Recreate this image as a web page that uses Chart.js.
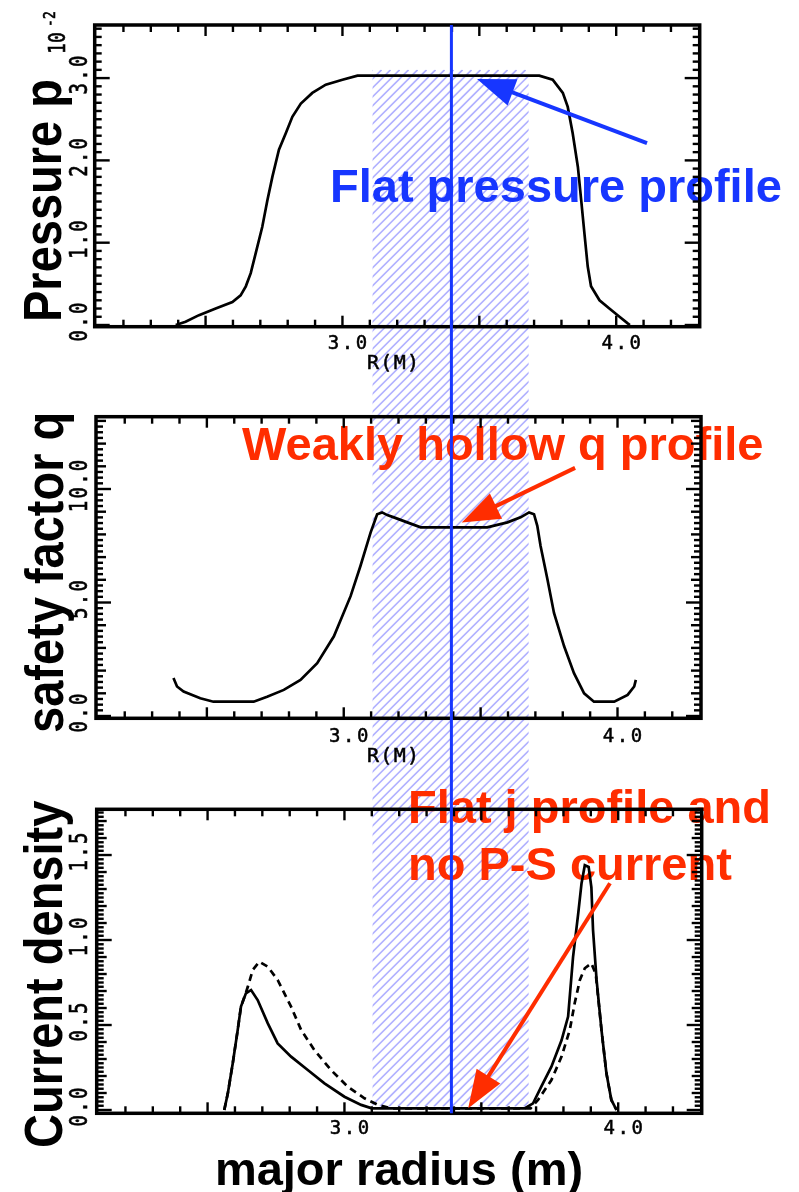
<!DOCTYPE html>
<html>
<head>
<meta charset="utf-8">
<script src="https://cdn.jsdelivr.net/npm/chart.js@4.4.1/dist/chart.umd.min.js"></script>
<style>
html,body{margin:0;padding:0;background:#fff;}
#wrap{position:relative;width:799px;height:1192px;overflow:hidden;background:#fff;}
#wrap canvas{position:absolute;left:0;top:0;}
</style>
</head>
<body>
<div id="wrap">
<canvas id="bg" width="799" height="1192"></canvas>
<canvas id="c1" width="799" height="1192"></canvas>
<canvas id="c2" width="799" height="1192"></canvas>
<canvas id="c3" width="799" height="1192"></canvas>
<canvas id="fg" width="799" height="1192"></canvas>
</div>
<script>
// ---------------- data ----------------
const xMin = 2.095, xMax = 4.305;
const xTickValues = [3.0, 4.0];
const xTickLabels = ['3.0', '4.0'];

// Pressure (units of 10^-2)
const radiusP = [2.391,2.427,2.476,2.537,2.598,2.628,2.647,2.665,2.683,2.707,2.726,2.744,2.768,2.793,2.817,2.848,2.890,2.939,3.000,3.055,3.719,3.768,3.805,3.823,3.841,3.860,3.872,3.884,3.896,3.908,3.939,3.975,4.012,4.042,4.050];
const pressure = [0.00,0.04,0.12,0.20,0.28,0.36,0.47,0.63,0.87,1.19,1.52,1.80,2.13,2.33,2.53,2.69,2.82,2.92,2.98,3.03,3.03,2.98,2.82,2.65,2.33,1.92,1.52,1.11,0.71,0.47,0.30,0.20,0.10,0.02,0.00];
const pTickValues = [0, 1, 2, 3];
const pTickLabels = ['0.0', '1.0', '2.0', '3.0'];

// Safety factor q
const radiusQ = [2.378,2.391,2.415,2.476,2.524,2.671,2.720,2.781,2.842,2.903,2.964,3.025,3.061,3.098,3.122,3.140,3.159,3.183,3.232,3.281,3.524,3.598,3.646,3.677,3.695,3.707,3.719,3.744,3.768,3.805,3.841,3.878,3.914,3.988,4.037,4.061,4.067];
const safetyQ = [1.67,1.30,1.08,0.78,0.63,0.63,0.85,1.15,1.59,2.33,3.51,5.28,6.61,8.08,8.89,8.97,8.85,8.75,8.53,8.31,8.31,8.53,8.75,8.97,8.89,8.38,7.49,6.02,4.54,3.07,1.89,1.00,0.63,0.63,0.93,1.30,1.59];
const qTickValues = [0, 5, 10];
const qTickLabels = ['0.0', '5.0', '10.0'];

// Current density (solid and dashed)
const radiusJ = [2.561,2.574,2.592,2.610,2.622,2.640,2.659,2.683,2.720,2.756,2.805,2.866,2.927,3.000,3.061,3.100,3.658,3.689,3.719,3.756,3.793,3.817,3.835,3.854,3.866,3.878,3.892,3.902,3.908,3.921,3.939,3.957,3.975,3.994];
const currentJ = [0.00,0.098,0.275,0.47,0.608,0.686,0.706,0.647,0.51,0.392,0.314,0.235,0.157,0.078,0.03,0.01,0.01,0.039,0.137,0.255,0.41,0.55,0.90,1.157,1.333,1.44,1.43,1.31,1.06,0.765,0.47,0.216,0.059,0.00];
const radiusJd = [2.561,2.574,2.592,2.610,2.622,2.640,2.647,2.665,2.689,2.720,2.756,2.805,2.842,2.890,2.951,3.012,3.073,3.122,3.170,3.680,3.707,3.756,3.793,3.823,3.841,3.860,3.878,3.902,3.918,3.939,3.957,3.975,3.994];
const currentJd = [0.00,0.098,0.275,0.47,0.608,0.69,0.725,0.824,0.872,0.843,0.765,0.608,0.47,0.353,0.235,0.137,0.069,0.03,0.01,0.01,0.059,0.176,0.314,0.47,0.628,0.765,0.834,0.863,0.80,0.47,0.216,0.059,0.00];
const jTickValues = [0, 0.5, 1.0, 1.5];
const jTickLabels = ['0.0', '0.5', '1.0', '1.5'];

// ---------------- styles ----------------
const BLUE = '#1736ff';
const RED = '#ff2d00';
const TITLE_FONT = 'bold 47px "Liberation Sans", Arial, sans-serif';
const MONO = '"DejaVu Sans Mono", "Liberation Mono", monospace';

const panels = [
  { id:'c1', box:{l:94.7, r:699.7, t:25, b:326.7}, ymin:-0.0207, ymax:3.645,
    minor:0.1, mid:null, major:1,
    yTicks:pTickValues, yLabels:pTickLabels, title:'Pressure p', titleX:61, titleStart:322,
    xLabelDy:17, xTitle:'R(M)', xTitleDy:37,
    series:[{x:radiusP, y:pressure}] },
  { id:'c2', box:{l:96, r:701, t:416.7, b:718.3}, ymin:-0.101, ymax:13.185,
    minor:0.25, mid:1, major:5,
    yTicks:qTickValues, yLabels:qTickLabels, title:'safety factor q', titleX:63, titleStart:733,
    xLabelDy:19, xTitle:'R(M)', xTitleDy:38.5,
    series:[{x:radiusQ, y:safetyQ}] },
  { id:'c3', box:{l:96.7, r:701.7, t:809.3, b:1113.3}, ymin:-0.0194, ymax:1.769,
    minor:0.025, mid:0.1, major:0.5,
    yTicks:jTickValues, yLabels:jTickLabels, title:'Current density', titleX:62, titleStart:1148,
    xLabelDy:16, xTitle:null,
    series:[{x:radiusJd, y:currentJd, dash:[7,5]}, {x:radiusJ, y:currentJ}] }
];

function spacedText(ctx, text, cx, cy, pitch, size, rotated, stretch){
  ctx.save();
  ctx.translate(cx, cy);
  if (rotated){ ctx.scale(stretch, 1); ctx.rotate(-Math.PI/2); }
  ctx.font = size + 'px ' + MONO;
  ctx.textAlign = 'center'; ctx.textBaseline = 'middle'; ctx.fillStyle = '#000';
  ctx.strokeStyle = '#000'; ctx.lineWidth = 0.5;
  const n = text.length;
  for (let i = 0; i < n; i++){
    ctx.fillText(text[i], (i - (n-1)/2) * pitch, 0);
    ctx.strokeText(text[i], (i - (n-1)/2) * pitch, 0);
  }
  ctx.restore();
}

function rotTitle(ctx, text, baseX, startY, stretch){
  ctx.save();
  ctx.translate(baseX, startY); ctx.scale(stretch, 1); ctx.rotate(-Math.PI/2);
  ctx.font = TITLE_FONT; ctx.textAlign = 'left'; ctx.textBaseline = 'alphabetic'; ctx.fillStyle = '#000';
  ctx.fillText(text, 0, 0);
  ctx.restore();
}

function isMult(v, step){ const r = v/step; return Math.abs(r - Math.round(r)) < 1e-6; }

function framePlugin(p){
  return {
    id:'frame_'+p.id,
    afterDraw(chart){
      const ctx = chart.ctx, a = chart.chartArea, xs = chart.scales.x, ys = chart.scales.y;
      ctx.save();
      ctx.strokeStyle = '#000'; ctx.lineCap = 'butt';
      // x ticks (top & bottom), inward
      ctx.lineWidth = 2.4;
      for (let k = 21; k <= 43; k++){
        const v = k/10; const px = xs.getPixelForValue(v);
        if (px < a.left + 2 || px > a.right - 2) continue;
        const len = isMult(v, 0.5) ? 11 : 7;
        ctx.beginPath(); ctx.moveTo(px, a.bottom); ctx.lineTo(px, a.bottom - len); ctx.stroke();
        ctx.beginPath(); ctx.moveTo(px, a.top); ctx.lineTo(px, a.top + len); ctx.stroke();
      }
      // y ticks (left & right), inward
      const nSteps = Math.floor(p.ymax / p.minor + 1e-6);
      for (let k = 0; k <= nSteps; k++){
        const v = k * p.minor; const py = ys.getPixelForValue(v);
        if (py < a.top + 2) continue;
        let len = 7;
        if (p.mid && isMult(v, p.mid)) len = 10;
        if (isMult(v, p.major)) len = 15;
        ctx.beginPath(); ctx.moveTo(a.left, py); ctx.lineTo(a.left + len, py); ctx.stroke();
        ctx.beginPath(); ctx.moveTo(a.right, py); ctx.lineTo(a.right - len, py); ctx.stroke();
      }
      // frame
      ctx.lineWidth = 3.5;
      ctx.strokeRect(a.left, a.top, a.right - a.left, a.bottom - a.top);
      ctx.restore();
      // tick labels
      xTickValues.forEach((v, i) => {
        spacedText(ctx, xTickLabels[i], xs.getPixelForValue(v) + 5, a.bottom + p.xLabelDy, 14, 19, false, 1);
      });
      p.yTicks.forEach((v, i) => {
        spacedText(ctx, p.yLabels[i], 81, ys.getPixelForValue(v) - 3, 13.7, 19, true, 1.3);
      });
      if (p.xTitle) spacedText(ctx, p.xTitle, 393, a.bottom + p.xTitleDy, 13.3, 20, false, 1);
      rotTitle(ctx, p.title, p.titleX, p.titleStart, 1.15);
      if (p.id === 'c1'){
        spacedText(ctx, '10', 59, 43, 11, 18, true, 1.3);
        spacedText(ctx, '-2', 51, 19, 8, 13, true, 1.2);
      }
      if (p.id === 'c3'){
        ctx.save();
        ctx.font = TITLE_FONT; ctx.fillStyle = '#000'; ctx.textAlign = 'center'; ctx.textBaseline = 'alphabetic';
        ctx.fillText('major radius (m)', 399, 1185);
        ctx.restore();
      }
    }
  };
}

const charts = panels.map(p => new Chart(document.getElementById(p.id), {
  type:'line',
  data:{ datasets: p.series.map(s => ({
    data: s.x.map((x, i) => ({x:x, y:s.y[i]})),
    borderColor:'#000', borderWidth:2.7, borderDash: s.dash || [],
    pointRadius:0, fill:false, tension:0
  })) },
  options:{
    responsive:false, animation:false, events:[],
    layout:{ padding:{ left:p.box.l, right:799 - p.box.r, top:p.box.t, bottom:1192 - p.box.b } },
    plugins:{ legend:{display:false}, tooltip:{enabled:false} },
    scales:{
      x:{ type:'linear', min:xMin, max:xMax, display:false },
      y:{ type:'linear', min:p.ymin, max:p.ymax, display:false }
    }
  },
  plugins:[framePlugin(p)]
}));

// ---------------- annotations ----------------
const shadeRange = [3.11, 3.68];      // major radius
const shadeTopP = 3.10;               // pressure panel value
const shadeBottomJ = 0.02;            // current panel value
const markerRadius = 3.398;

const notes = [
  {text:'Flat pressure profile', x:330, y:202, color:BLUE},
  {text:'Weakly hollow q profile', x:242, y:460, color:RED},
  {text:'Flat j profile and', x:408, y:823, color:RED},
  {text:'no P-S current', x:408, y:880, color:RED}
];
const arrows = [
  {chart:0, from:[4.1125, 2.211], to:[3.4915, 2.989], color:BLUE},
  {chart:1, from:[3.845, 10.93], to:[3.431, 8.52], color:RED},
  {chart:2, from:[3.970, 1.334], to:[3.452, 0.01], color:RED}
];

const [ch1, ch2, ch3] = charts;
const bg = document.getElementById('bg').getContext('2d');
const fg = document.getElementById('fg').getContext('2d');

// hatch
(function(){
  const x0 = ch1.scales.x.getPixelForValue(shadeRange[0]);
  const x1 = ch1.scales.x.getPixelForValue(shadeRange[1]);
  const y0 = ch1.scales.y.getPixelForValue(shadeTopP);
  const y1 = ch3.scales.y.getPixelForValue(shadeBottomJ);
  bg.save();
  bg.beginPath(); bg.rect(x0, y0, x1 - x0, y1 - y0); bg.clip();
  bg.strokeStyle = 'rgba(150,150,255,0.75)'; bg.lineWidth = 1.7;
  const H = y1 - y0, period = 9;
  for (let x = x0 - H - period; x < x1 + period; x += period){
    bg.beginPath(); bg.moveTo(x, y1); bg.lineTo(x + H, y0); bg.stroke();
  }
  bg.restore();
  // notes
  bg.save();
  bg.font = TITLE_FONT; bg.textAlign = 'left'; bg.textBaseline = 'alphabetic';
  notes.forEach(n => { bg.fillStyle = n.color; bg.fillText(n.text, n.x, n.y); });
  bg.restore();
})();

// blue marker line and arrows
(function(){
  const x = ch1.scales.x.getPixelForValue(markerRadius);
  const yTop = ch1.chartArea.top, yBot = ch3.chartArea.bottom;
  fg.save();
  fg.strokeStyle = BLUE; fg.lineWidth = 3;
  fg.beginPath(); fg.moveTo(x, yTop); fg.lineTo(x, yBot); fg.stroke();
  arrows.forEach(ar => {
    const c = charts[ar.chart];
    const x0 = c.scales.x.getPixelForValue(ar.from[0]), y0 = c.scales.y.getPixelForValue(ar.from[1]);
    const x1 = c.scales.x.getPixelForValue(ar.to[0]), y1 = c.scales.y.getPixelForValue(ar.to[1]);
    const dx = x1 - x0, dy = y1 - y0, L = Math.hypot(dx, dy), ux = dx / L, uy = dy / L;
    const hl = 38, hw = 14;
    const bx = x1 - ux * hl, by = y1 - uy * hl;
    fg.strokeStyle = ar.color; fg.fillStyle = ar.color; fg.lineWidth = 4; fg.lineCap = 'butt';
    fg.beginPath(); fg.moveTo(x0, y0); fg.lineTo(bx + ux * 3, by + uy * 3); fg.stroke();
    fg.beginPath(); fg.moveTo(x1, y1); fg.lineTo(bx - uy * hw, by + ux * hw); fg.lineTo(bx + uy * hw, by - ux * hw); fg.closePath(); fg.fill();
  });
  fg.restore();
})();
</script>
</body>
</html>
